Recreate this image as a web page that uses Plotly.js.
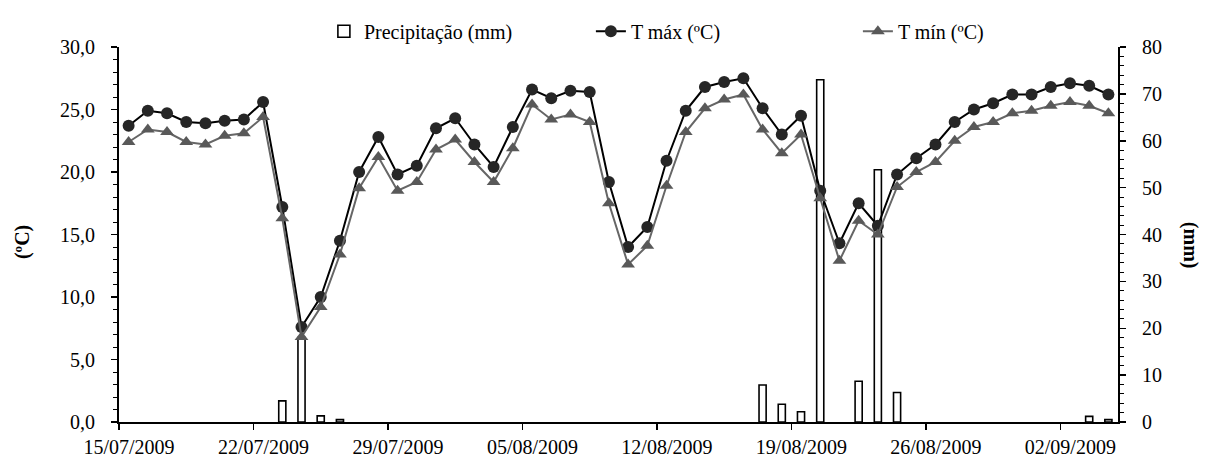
<!DOCTYPE html>
<html>
<head>
<meta charset="utf-8">
<script src="https://cdn.plot.ly/plotly-3.0.1.min.js"></script>
<style>
  html, body { margin: 0; padding: 0; background: #fff; }
  #chart { width: 1209px; height: 467px; }
</style>
</head>
<body>
<div id="chart"></div>
<script>
// ---- data ----
const dates = [
  "2009-07-15","2009-07-16","2009-07-17","2009-07-18","2009-07-19","2009-07-20","2009-07-21",
  "2009-07-22","2009-07-23","2009-07-24","2009-07-25","2009-07-26","2009-07-27","2009-07-28",
  "2009-07-29","2009-07-30","2009-07-31","2009-08-01","2009-08-02","2009-08-03","2009-08-04",
  "2009-08-05","2009-08-06","2009-08-07","2009-08-08","2009-08-09","2009-08-10","2009-08-11",
  "2009-08-12","2009-08-13","2009-08-14","2009-08-15","2009-08-16","2009-08-17","2009-08-18",
  "2009-08-19","2009-08-20","2009-08-21","2009-08-22","2009-08-23","2009-08-24","2009-08-25",
  "2009-08-26","2009-08-27","2009-08-28","2009-08-29","2009-08-30","2009-08-31","2009-09-01",
  "2009-09-02","2009-09-03","2009-09-04"
];
const tMax = [
  23.7, 24.9, 24.7, 24.0, 23.9, 24.1, 24.2, 25.6, 17.2, 7.6, 10.0, 14.5, 20.0, 22.8,
  19.8, 20.5, 23.5, 24.3, 22.2, 20.4, 23.6, 26.6, 25.9, 26.5, 26.4, 19.2, 14.0, 15.6,
  20.9, 24.9, 26.8, 27.2, 27.5, 25.1, 23.0, 24.5, 18.5, 14.3, 17.5, 15.7, 19.8, 21.1,
  22.2, 24.0, 25.0, 25.5, 26.2, 26.2, 26.8, 27.1, 26.9, 26.2
];
const tMin = [
  22.4, 23.4, 23.2, 22.4, 22.2, 22.9, 23.1, 24.4, 16.3, 6.8, 9.2, 13.4, 18.7, 21.2,
  18.5, 19.2, 21.8, 22.6, 20.8, 19.2, 21.9, 25.4, 24.2, 24.6, 24.0, 17.5, 12.6, 14.1,
  18.9, 23.2, 25.1, 25.8, 26.2, 23.4, 21.5, 23.0, 17.9, 12.9, 16.1, 15.0, 18.8, 20.0,
  20.8, 22.5, 23.6, 24.0, 24.7, 24.9, 25.3, 25.6, 25.3, 24.7
];
const precip = [
  null, null, null, null, null, null, null, null, 4.5, 18.0, 1.3, 0.5, null, null,
  null, null, null, null, null, null, null, null, null, null, null, null, null, null,
  null, null, null, null, null, 7.9, 3.8, 2.2, 73.0, null, 8.7, 53.8, 6.3, null,
  null, null, null, null, null, null, null, null, 1.2, 0.5
];
const seriesNames = ["Precipitação (mm)", "T máx (ºC)", "T mín (ºC)"];
const leftTitle = "(ºC)";
const rightTitle = "(mm)";

// ---- chart ----
const DAY = 86400000;
const FONT = "Liberation Serif";

const traces = [
  {
    type: "bar", name: seriesNames[0], x: dates, y: precip,
    xperiod: DAY, xperiodalignment: "middle",
    width: 0.37 * DAY,
    marker: { color: "#ffffff", line: { color: "#000000", width: 1.6 } },
    yaxis: "y", hoverinfo: "skip"
  },
  {
    type: "scatter", mode: "lines+markers", name: seriesNames[1], x: dates, y: tMax,
    xperiod: DAY, xperiodalignment: "middle",
    line: { color: "#000000", width: 2 },
    marker: { symbol: "circle", size: 12, color: "#262626", line: { width: 0 } },
    yaxis: "y2"
  },
  {
    type: "scatter", mode: "lines+markers", name: seriesNames[2], x: dates, y: tMin,
    xperiod: DAY, xperiodalignment: "middle",
    line: { color: "#666666", width: 2 },
    marker: { symbol: "triangle-up", size: 12, color: "#595959", line: { width: 0 } },
    yaxis: "y2"
  }
];

const tickFont = { family: FONT, size: 20, color: "#000" };

const layout = {
  width: 1209, height: 467,
  margin: { l: 119, r: 91, t: 37, b: 45 },
  paper_bgcolor: "#ffffff", plot_bgcolor: "#ffffff",
  separators: ",.",
  font: { family: FONT, size: 20, color: "#000000" },
  showlegend: true,
  legend: {
    orientation: "h", x: 0.606, xanchor: "center", y: 0.99, yanchor: "bottom",
    font: { family: FONT, size: 20, color: "#000" },
    entrywidth: 222, traceorder: "normal", bgcolor: "rgba(0,0,0,0)"
  },
  barmode: "overlay",
  xaxis: {
    type: "date",
    range: ["2009-07-15", "2009-09-05"],
    tick0: "2009-07-15", dtick: 7 * DAY,
    tickformat: "%d/%m/%Y",
    ticklabelshift: 10,
    ticks: "outside", ticklen: 6, tickwidth: 1.5, tickcolor: "#000",
    showline: true, linecolor: "#000", linewidth: 2,
    showgrid: false, zeroline: false,
    tickfont: tickFont
  },
  yaxis: {
    side: "right", range: [0, 80], dtick: 10, tick0: 0,
    ticks: "outside", ticklen: 6, tickwidth: 1.5, tickcolor: "#000",
    ticklabelstandoff: 12,
    minor: { dtick: 2, ticks: "outside", ticklen: 4, tickwidth: 1, tickcolor: "#000" },
    showline: true, linecolor: "#000", linewidth: 2,
    showgrid: false, zeroline: false,
    tickfont: tickFont
  },
  yaxis2: {
    side: "left", overlaying: "y", range: [0, 30], dtick: 5, tick0: 0,
    tickformat: ".1f",
    ticks: "outside", ticklen: 6, tickwidth: 1.5, tickcolor: "#000",
    ticklabelstandoff: 12,
    minor: { dtick: 1, ticks: "outside", ticklen: 4, tickwidth: 1, tickcolor: "#000" },
    showline: true, linecolor: "#000", linewidth: 2,
    showgrid: false, zeroline: false,
    tickfont: tickFont
  },
  annotations: [
    {
      text: "<b>" + leftTitle + "</b>", xref: "paper", yref: "paper",
      x: -0.097, y: 0.48, xanchor: "center", yanchor: "middle",
      textangle: -90, showarrow: false,
      font: { family: FONT, size: 20, color: "#000" }
    },
    {
      text: "<b>" + rightTitle + "</b>", xref: "paper", yref: "paper",
      x: 1.072, y: 0.47, xanchor: "center", yanchor: "middle",
      textangle: 90, showarrow: false,
      font: { family: FONT, size: 20, color: "#000" }
    }
  ]
};

Plotly.newPlot("chart", traces, layout, { displayModeBar: false, staticPlot: true });
</script>
</body>
</html>
